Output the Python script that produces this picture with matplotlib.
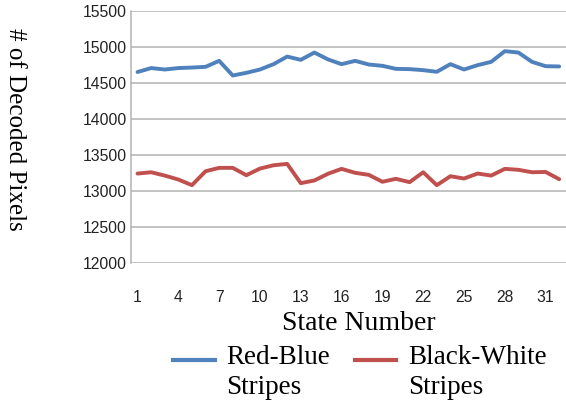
import matplotlib.pyplot as plt
from matplotlib.lines import Line2D

# decoded pixel counts per state
states = list(range(1, 33))
red_blue = [14650, 14705, 14685, 14705, 14712, 14722, 14805, 14602,
            14639, 14685, 14759, 14864, 14819, 14920, 14825, 14759,
            14805, 14754, 14736, 14694, 14690, 14676, 14653, 14759,
            14685, 14745, 14791, 14939, 14920, 14791, 14731, 14727]
black_white = [13243, 13261, 13215, 13160, 13082, 13275, 13322, 13322,
               13220, 13312, 13358, 13377, 13110, 13147, 13240, 13308,
               13253, 13225, 13129, 13170, 13124, 13261, 13082, 13206,
               13174, 13243, 13215, 13308, 13295, 13261, 13265, 13165]
yticks = [12000, 12500, 13000, 13500, 14000, 14500, 15000, 15500]
xticks = list(range(1, 33, 3))

blue = '#4F81BD'
red = '#C0504D'
serif = 'Liberation Serif'
sans = 'Liberation Sans'
W, H = 566, 405

fig = plt.figure(figsize=(5.66, 4.05), dpi=100)
ax = fig.add_axes([0.231, 0.350, 0.769, 0.6236])

ax.plot(states, red_blue, color=blue, lw=2.8, solid_capstyle='round')
ax.plot(states, black_white, color=red, lw=2.8, solid_capstyle='round')

ax.set_xlim(0.5, 32.5)
ax.set_ylim(12000, 15500)
ax.set_yticks(yticks)
ax.set_xticks(xticks)
ax.grid(axis='y', color='#b3b3b3', lw=1.1)
ax.set_axisbelow(True)

for side in ('top', 'right', 'bottom'):
    ax.spines[side].set_visible(False)
ax.spines['left'].set_color('#b3b3b3')
ax.spines['left'].set_linewidth(1.1)

ax.tick_params(axis='both', length=0, labelsize=11.3, labelcolor='#222222')
ax.tick_params(axis='y', pad=3)
ax.tick_params(axis='x', pad=19)
for lab in ax.get_xticklabels() + ax.get_yticklabels():
    lab.set_fontfamily(sans)

fig.text(15 / W, 1 - 129 / H, '# of Decoded Pixels', rotation=270,
         ha='center', va='center', fontsize=18, family=serif)
fig.text(359 / W, 1 - 323 / H, 'State Number', ha='center',
         va='center', fontsize=20, family=serif)

# legend drawn by hand so the two-line labels sit beside the swatches
legend_items = [(blue, ('Red-Blue', 'Stripes'), 173, 215, 226),
                (red, ('Black-White', 'Stripes'), 355, 396, 408)]
for color, lines, x0, x1, xt in legend_items:
    fig.add_artist(Line2D([x0 / W, x1 / W], [1 - 360 / H] * 2,
                          color=color, lw=3, transform=fig.transFigure))
    for row, text in enumerate(lines):
        fig.text(xt / W, 1 - (358 + 29 * row) / H, text, ha='left',
                 va='center', fontsize=19.5, family=serif)

fig.savefig('out.png', dpi=100)
